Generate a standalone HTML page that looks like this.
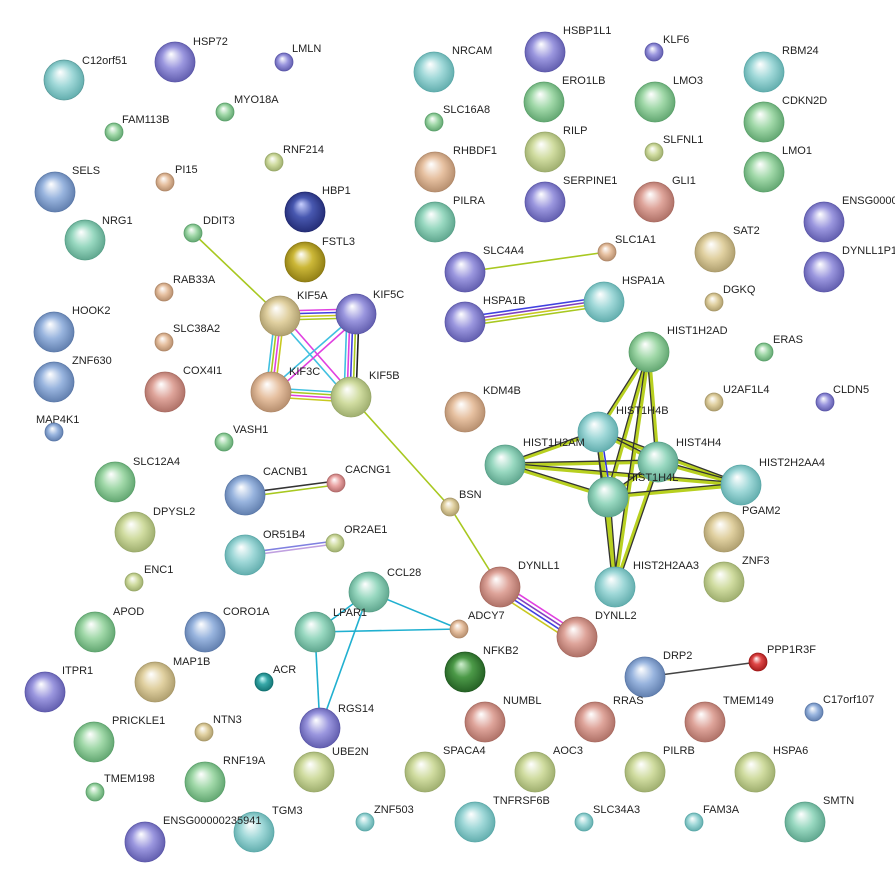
<!DOCTYPE html>
<html><head><meta charset="utf-8"><style>
html,body{margin:0;padding:0;background:#fff;}
svg{display:block;}
text{font-family:"Liberation Sans",Arial,sans-serif;font-size:11px;fill:#222;}
</style></head><body>
<svg width="895" height="887" viewBox="0 0 895 887" xmlns="http://www.w3.org/2000/svg">
<defs>
<radialGradient id="te" cx="50%" cy="50%" r="55%" fx="40%" fy="30%"><stop offset="0" stop-color="#fff"/><stop offset="0.5" stop-color="#9fd8d8"/><stop offset="1" stop-color="#5aa8a8"/></radialGradient>
<radialGradient id="pu" cx="50%" cy="50%" r="55%" fx="40%" fy="30%"><stop offset="0" stop-color="#fff"/><stop offset="0.5" stop-color="#9a96de"/><stop offset="1" stop-color="#5a56a8"/></radialGradient>
<radialGradient id="gr" cx="50%" cy="50%" r="55%" fx="40%" fy="30%"><stop offset="0" stop-color="#fff"/><stop offset="0.5" stop-color="#a0d8a8"/><stop offset="1" stop-color="#5aa06a"/></radialGradient>
<radialGradient id="bl" cx="50%" cy="50%" r="55%" fx="40%" fy="30%"><stop offset="0" stop-color="#fff"/><stop offset="0.5" stop-color="#98b4de"/><stop offset="1" stop-color="#5a78a8"/></radialGradient>
<radialGradient id="pe" cx="50%" cy="50%" r="55%" fx="40%" fy="30%"><stop offset="0" stop-color="#fff"/><stop offset="0.5" stop-color="#e6c0a0"/><stop offset="1" stop-color="#b08868"/></radialGradient>
<radialGradient id="sa" cx="50%" cy="50%" r="55%" fx="40%" fy="30%"><stop offset="0" stop-color="#fff"/><stop offset="0.5" stop-color="#dea49a"/><stop offset="1" stop-color="#a86a60"/></radialGradient>
<radialGradient id="yg" cx="50%" cy="50%" r="55%" fx="40%" fy="30%"><stop offset="0" stop-color="#fff"/><stop offset="0.5" stop-color="#d0dca0"/><stop offset="1" stop-color="#98a868"/></radialGradient>
<radialGradient id="ta" cx="50%" cy="50%" r="55%" fx="40%" fy="30%"><stop offset="0" stop-color="#fff"/><stop offset="0.5" stop-color="#e0d0a0"/><stop offset="1" stop-color="#a89868"/></radialGradient>
<radialGradient id="ol" cx="50%" cy="50%" r="55%" fx="40%" fy="30%"><stop offset="0" stop-color="#fff"/><stop offset="0.45" stop-color="#ccb838"/><stop offset="1" stop-color="#8a7810"/></radialGradient>
<radialGradient id="nv" cx="50%" cy="50%" r="55%" fx="40%" fy="30%"><stop offset="0" stop-color="#c8d0ff"/><stop offset="0.45" stop-color="#4858b0"/><stop offset="1" stop-color="#202870"/></radialGradient>
<radialGradient id="pk" cx="50%" cy="50%" r="55%" fx="40%" fy="30%"><stop offset="0" stop-color="#fff"/><stop offset="0.5" stop-color="#eaa4a4"/><stop offset="1" stop-color="#b06868"/></radialGradient>
<radialGradient id="rd" cx="50%" cy="50%" r="55%" fx="40%" fy="30%"><stop offset="0" stop-color="#fff"/><stop offset="0.45" stop-color="#e04848"/><stop offset="1" stop-color="#a01818"/></radialGradient>
<radialGradient id="dg" cx="50%" cy="50%" r="55%" fx="40%" fy="30%"><stop offset="0" stop-color="#d0f0d0"/><stop offset="0.45" stop-color="#4c9a48"/><stop offset="1" stop-color="#205a20"/></radialGradient>
<radialGradient id="ac" cx="50%" cy="50%" r="55%" fx="40%" fy="30%"><stop offset="0" stop-color="#d0ffff"/><stop offset="0.45" stop-color="#38a8a8"/><stop offset="1" stop-color="#107070"/></radialGradient>
<radialGradient id="tg" cx="50%" cy="50%" r="55%" fx="40%" fy="30%"><stop offset="0" stop-color="#fff"/><stop offset="0.5" stop-color="#98d8c0"/><stop offset="1" stop-color="#58a088"/></radialGradient>
</defs>

<!-- edges -->
<g stroke-width="1.6" fill="none">
<line x1="193" y1="233" x2="280" y2="316" stroke="#a8c820"/>
<line x1="351" y1="397" x2="450" y2="507" stroke="#a8c820"/>
<line x1="450" y1="507" x2="500" y2="587" stroke="#a8c820"/>
<line x1="465" y1="272" x2="607" y2="252" stroke="#a8c820"/>
<!-- KIF cluster -->
<g>
<line x1="280" y1="311" x2="356" y2="309" stroke="#e040e0"/><line x1="280" y1="314" x2="356" y2="312" stroke="#4040e0"/><line x1="280" y1="317" x2="356" y2="315" stroke="#c8c820"/><line x1="280" y1="320" x2="356" y2="318" stroke="#a8c820"/>
<line x1="275" y1="316" x2="266" y2="392" stroke="#40c0e0"/><line x1="278" y1="316" x2="269" y2="392" stroke="#a8c820"/><line x1="281" y1="316" x2="272" y2="392" stroke="#e040e0"/><line x1="284" y1="316" x2="275" y2="392" stroke="#c8c820"/>
<line x1="278" y1="318" x2="349" y2="399" stroke="#40c0e0"/><line x1="282" y1="314" x2="353" y2="395" stroke="#e040e0"/>
<line x1="354" y1="316" x2="269" y2="390" stroke="#40c0e0"/><line x1="358" y1="318" x2="273" y2="394" stroke="#e040e0"/>
<line x1="347" y1="314" x2="344" y2="397" stroke="#40c0e0"/><line x1="350" y1="314" x2="347" y2="397" stroke="#e040e0"/><line x1="353" y1="314" x2="350" y2="397" stroke="#4040e0"/><line x1="356" y1="314" x2="353" y2="397" stroke="#a8c820"/><line x1="359" y1="314" x2="356" y2="397" stroke="#222"/>
<line x1="271" y1="388" x2="351" y2="393" stroke="#40c0e0"/><line x1="271" y1="391" x2="351" y2="396" stroke="#a8c820"/><line x1="271" y1="394" x2="351" y2="399" stroke="#e040e0"/><line x1="271" y1="397" x2="351" y2="402" stroke="#c8c820"/>
</g>
<!-- HSPA -->
<line x1="465" y1="317" x2="604" y2="297" stroke="#4040e0"/><line x1="465" y1="320" x2="604" y2="300" stroke="#8040c0"/><line x1="465" y1="323" x2="604" y2="303" stroke="#c8c820"/><line x1="465" y1="326" x2="604" y2="306" stroke="#a8c820"/>
<!-- DYNLL -->
<line x1="503" y1="584" x2="580" y2="634" stroke="#e040e0"/><line x1="501" y1="587" x2="578" y2="637" stroke="#8040c0"/><line x1="499" y1="590" x2="576" y2="640" stroke="#4040e0"/><line x1="497" y1="593" x2="574" y2="643" stroke="#c8c820"/>
<!-- CACN -->
<line x1="245" y1="493" x2="336" y2="481" stroke="#333"/><line x1="245" y1="497" x2="336" y2="485" stroke="#a8c820"/>
<!-- OR -->
<line x1="245" y1="553" x2="335" y2="541" stroke="#8080e0"/><line x1="245" y1="556" x2="335" y2="544" stroke="#c0a0e0"/>
<!-- CCL28 / LPAR1 -->
<g stroke="#20b0d0">
<line x1="369" y1="592" x2="315" y2="632"/><line x1="369" y1="592" x2="459" y2="629"/><line x1="315" y1="632" x2="459" y2="629"/><line x1="315" y1="632" x2="320" y2="728"/><line x1="369" y1="592" x2="320" y2="728"/>
</g>
<line x1="645" y1="677" x2="758" y2="662" stroke="#444"/>
<!-- histones -->
<g>
<g stroke="#b8d020" stroke-width="3.5">
<line x1="649" y1="352" x2="598" y2="432"/><line x1="649" y1="352" x2="658" y2="462"/><line x1="649" y1="352" x2="608" y2="497"/><line x1="649" y1="352" x2="615" y2="587"/>
<line x1="598" y1="432" x2="505" y2="465"/><line x1="598" y1="432" x2="658" y2="462"/><line x1="598" y1="432" x2="741" y2="485"/><line x1="598" y1="432" x2="608" y2="497"/><line x1="598" y1="432" x2="615" y2="587"/>
<line x1="505" y1="465" x2="658" y2="462"/><line x1="505" y1="465" x2="608" y2="497"/><line x1="505" y1="465" x2="741" y2="485"/>
<line x1="658" y1="462" x2="741" y2="485"/><line x1="658" y1="462" x2="608" y2="497"/><line x1="658" y1="462" x2="615" y2="587"/>
<line x1="608" y1="497" x2="741" y2="485"/><line x1="608" y1="497" x2="615" y2="587"/>
</g>
<g stroke="#333" stroke-width="1.3">
<line x1="647" y1="352" x2="596" y2="432"/><line x1="647" y1="352" x2="656" y2="462"/><line x1="647" y1="352" x2="606" y2="497"/><line x1="647" y1="352" x2="613" y2="587"/>
<line x1="598" y1="430" x2="505" y2="463"/><line x1="598" y1="430" x2="658" y2="460"/><line x1="598" y1="430" x2="741" y2="483"/><line x1="595" y1="432" x2="605" y2="497"/><line x1="596" y1="432" x2="613" y2="587"/>
<line x1="505" y1="463" x2="658" y2="460"/><line x1="505" y1="463" x2="608" y2="495"/><line x1="505" y1="463" x2="741" y2="483"/>
<line x1="658" y1="460" x2="741" y2="483"/><line x1="658" y1="460" x2="608" y2="495"/><line x1="660" y1="462" x2="617" y2="587"/>
<line x1="608" y1="495" x2="741" y2="483"/><line x1="610" y1="497" x2="617" y2="587"/>
</g>
<line x1="601" y1="432" x2="611" y2="497" stroke="#3030e0" stroke-width="1.5"/>
</g>
</g>

<!-- nodes -->
<g stroke-width="0.8">
<circle cx="64" cy="80" r="20" fill="url(#te)" stroke="#5a9a9a"/>
<circle cx="175" cy="62" r="20" fill="url(#pu)" stroke="#5a56a8"/>
<circle cx="284" cy="62" r="9" fill="url(#pu)" stroke="#5a56a8"/>
<circle cx="114" cy="132" r="9" fill="url(#gr)" stroke="#5aa06a"/>
<circle cx="225" cy="112" r="9" fill="url(#gr)" stroke="#5aa06a"/>
<circle cx="274" cy="162" r="9" fill="url(#yg)" stroke="#98a868"/>
<circle cx="165" cy="182" r="9" fill="url(#pe)" stroke="#b08868"/>
<circle cx="55" cy="192" r="20" fill="url(#bl)" stroke="#5a78a8"/>
<circle cx="85" cy="240" r="20" fill="url(#tg)" stroke="#58a088"/>
<circle cx="193" cy="233" r="9" fill="url(#gr)" stroke="#5aa06a"/>
<circle cx="305" cy="212" r="20" fill="url(#nv)" stroke="#202870"/>
<circle cx="305" cy="262" r="20" fill="url(#ol)" stroke="#8a7810"/>
<circle cx="164" cy="292" r="9" fill="url(#pe)" stroke="#b08868"/>
<circle cx="280" cy="316" r="20" fill="url(#ta)" stroke="#a89868"/>
<circle cx="356" cy="314" r="20" fill="url(#pu)" stroke="#5a56a8"/>
<circle cx="271" cy="392" r="20" fill="url(#pe)" stroke="#b08868"/>
<circle cx="351" cy="397" r="20" fill="url(#yg)" stroke="#98a868"/>
<circle cx="54" cy="332" r="20" fill="url(#bl)" stroke="#5a78a8"/>
<circle cx="164" cy="342" r="9" fill="url(#pe)" stroke="#b08868"/>
<circle cx="54" cy="382" r="20" fill="url(#bl)" stroke="#5a78a8"/>
<circle cx="165" cy="392" r="20" fill="url(#sa)" stroke="#a86a60"/>
<circle cx="54" cy="432" r="9" fill="url(#bl)" stroke="#5a78a8"/>
<circle cx="224" cy="442" r="9" fill="url(#gr)" stroke="#5aa06a"/>
<circle cx="115" cy="482" r="20" fill="url(#gr)" stroke="#5aa06a"/>
<circle cx="245" cy="495" r="20" fill="url(#bl)" stroke="#5a78a8"/>
<circle cx="336" cy="483" r="9" fill="url(#pk)" stroke="#b06868"/>
<circle cx="135" cy="532" r="20" fill="url(#yg)" stroke="#98a868"/>
<circle cx="245" cy="555" r="20" fill="url(#te)" stroke="#5aa8a8"/>
<circle cx="335" cy="543" r="9" fill="url(#yg)" stroke="#98a868"/>
<circle cx="134" cy="582" r="9" fill="url(#yg)" stroke="#98a868"/>
<circle cx="369" cy="592" r="20" fill="url(#tg)" stroke="#58a088"/>
<circle cx="315" cy="632" r="20" fill="url(#tg)" stroke="#58a088"/>
<circle cx="95" cy="632" r="20" fill="url(#gr)" stroke="#5aa06a"/>
<circle cx="205" cy="632" r="20" fill="url(#bl)" stroke="#5a78a8"/>
<circle cx="459" cy="629" r="9" fill="url(#pe)" stroke="#b08868"/>
<circle cx="155" cy="682" r="20" fill="url(#ta)" stroke="#a89868"/>
<circle cx="264" cy="682" r="9" fill="url(#ac)" stroke="#107070"/>
<circle cx="45" cy="692" r="20" fill="url(#pu)" stroke="#5a56a8"/>
<circle cx="320" cy="728" r="20" fill="url(#pu)" stroke="#5a56a8"/>
<circle cx="94" cy="742" r="20" fill="url(#gr)" stroke="#5aa06a"/>
<circle cx="204" cy="732" r="9" fill="url(#ta)" stroke="#a89868"/>
<circle cx="314" cy="772" r="20" fill="url(#yg)" stroke="#98a868"/>
<circle cx="205" cy="782" r="20" fill="url(#gr)" stroke="#5aa06a"/>
<circle cx="95" cy="792" r="9" fill="url(#gr)" stroke="#5aa06a"/>
<circle cx="145" cy="842" r="20" fill="url(#pu)" stroke="#5a56a8"/>
<circle cx="254" cy="832" r="20" fill="url(#te)" stroke="#5aa8a8"/>
<circle cx="365" cy="822" r="9" fill="url(#te)" stroke="#5aa8a8"/>
<circle cx="434" cy="72" r="20" fill="url(#te)" stroke="#5aa8a8"/>
<circle cx="545" cy="52" r="20" fill="url(#pu)" stroke="#5a56a8"/>
<circle cx="654" cy="52" r="9" fill="url(#pu)" stroke="#5a56a8"/>
<circle cx="764" cy="72" r="20" fill="url(#te)" stroke="#5aa8a8"/>
<circle cx="544" cy="102" r="20" fill="url(#gr)" stroke="#5aa06a"/>
<circle cx="655" cy="102" r="20" fill="url(#gr)" stroke="#5aa06a"/>
<circle cx="434" cy="122" r="9" fill="url(#gr)" stroke="#5aa06a"/>
<circle cx="764" cy="122" r="20" fill="url(#gr)" stroke="#5aa06a"/>
<circle cx="545" cy="152" r="20" fill="url(#yg)" stroke="#98a868"/>
<circle cx="654" cy="152" r="9" fill="url(#yg)" stroke="#98a868"/>
<circle cx="435" cy="172" r="20" fill="url(#pe)" stroke="#b08868"/>
<circle cx="764" cy="172" r="20" fill="url(#gr)" stroke="#5aa06a"/>
<circle cx="545" cy="202" r="20" fill="url(#pu)" stroke="#5a56a8"/>
<circle cx="654" cy="202" r="20" fill="url(#sa)" stroke="#a86a60"/>
<circle cx="435" cy="222" r="20" fill="url(#tg)" stroke="#58a088"/>
<circle cx="824" cy="222" r="20" fill="url(#pu)" stroke="#5a56a8"/>
<circle cx="824" cy="272" r="20" fill="url(#pu)" stroke="#5a56a8"/>
<circle cx="465" cy="272" r="20" fill="url(#pu)" stroke="#5a56a8"/>
<circle cx="607" cy="252" r="9" fill="url(#pe)" stroke="#b08868"/>
<circle cx="715" cy="252" r="20" fill="url(#ta)" stroke="#a89868"/>
<circle cx="714" cy="302" r="9" fill="url(#ta)" stroke="#a89868"/>
<circle cx="604" cy="302" r="20" fill="url(#te)" stroke="#5aa8a8"/>
<circle cx="465" cy="322" r="20" fill="url(#pu)" stroke="#5a56a8"/>
<circle cx="649" cy="352" r="20" fill="url(#gr)" stroke="#5aa06a"/>
<circle cx="764" cy="352" r="9" fill="url(#gr)" stroke="#5aa06a"/>
<circle cx="465" cy="412" r="20" fill="url(#pe)" stroke="#b08868"/>
<circle cx="714" cy="402" r="9" fill="url(#ta)" stroke="#a89868"/>
<circle cx="825" cy="402" r="9" fill="url(#pu)" stroke="#5a56a8"/>
<circle cx="598" cy="432" r="20" fill="url(#te)" stroke="#5aa8a8"/>
<circle cx="658" cy="462" r="20" fill="url(#tg)" stroke="#58a088"/>
<circle cx="505" cy="465" r="20" fill="url(#tg)" stroke="#58a088"/>
<circle cx="741" cy="485" r="20" fill="url(#te)" stroke="#5aa8a8"/>
<circle cx="608" cy="497" r="20" fill="url(#tg)" stroke="#58a088"/>
<circle cx="450" cy="507" r="9" fill="url(#ta)" stroke="#a89868"/>
<circle cx="724" cy="532" r="20" fill="url(#ta)" stroke="#a89868"/>
<circle cx="615" cy="587" r="20" fill="url(#te)" stroke="#5aa8a8"/>
<circle cx="724" cy="582" r="20" fill="url(#yg)" stroke="#98a868"/>
<circle cx="500" cy="587" r="20" fill="url(#sa)" stroke="#a86a60"/>
<circle cx="577" cy="637" r="20" fill="url(#sa)" stroke="#a86a60"/>
<circle cx="465" cy="672" r="20" fill="url(#dg)" stroke="#205a20"/>
<circle cx="645" cy="677" r="20" fill="url(#bl)" stroke="#5a78a8"/>
<circle cx="758" cy="662" r="9" fill="url(#rd)" stroke="#a01818"/>
<circle cx="485" cy="722" r="20" fill="url(#sa)" stroke="#a86a60"/>
<circle cx="595" cy="722" r="20" fill="url(#sa)" stroke="#a86a60"/>
<circle cx="705" cy="722" r="20" fill="url(#sa)" stroke="#a86a60"/>
<circle cx="814" cy="712" r="9" fill="url(#bl)" stroke="#5a78a8"/>
<circle cx="425" cy="772" r="20" fill="url(#yg)" stroke="#98a868"/>
<circle cx="535" cy="772" r="20" fill="url(#yg)" stroke="#98a868"/>
<circle cx="645" cy="772" r="20" fill="url(#yg)" stroke="#98a868"/>
<circle cx="755" cy="772" r="20" fill="url(#yg)" stroke="#98a868"/>
<circle cx="805" cy="822" r="20" fill="url(#tg)" stroke="#58a088"/>
<circle cx="475" cy="822" r="20" fill="url(#te)" stroke="#5aa8a8"/>
<circle cx="584" cy="822" r="9" fill="url(#te)" stroke="#5aa8a8"/>
<circle cx="694" cy="822" r="9" fill="url(#te)" stroke="#5aa8a8"/>
</g>

<!-- labels -->
<g>
<text x="82" y="64">C12orf51</text><text x="193" y="45">HSP72</text><text x="292" y="52">LMLN</text>
<text x="122" y="123">FAM113B</text><text x="234" y="103">MYO18A</text><text x="283" y="153">RNF214</text>
<text x="175" y="173">PI15</text><text x="72" y="174">SELS</text><text x="102" y="224">NRG1</text>
<text x="203" y="224">DDIT3</text><text x="322" y="194">HBP1</text><text x="322" y="245">FSTL3</text>
<text x="173" y="283">RAB33A</text><text x="297" y="299">KIF5A</text><text x="373" y="298">KIF5C</text>
<text x="289" y="375">KIF3C</text><text x="369" y="379">KIF5B</text><text x="72" y="314">HOOK2</text>
<text x="173" y="332">SLC38A2</text><text x="72" y="364">ZNF630</text><text x="183" y="374">COX4I1</text>
<text x="36" y="423">MAP4K1</text><text x="233" y="433">VASH1</text><text x="133" y="465">SLC12A4</text>
<text x="263" y="475">CACNB1</text><text x="345" y="473">CACNG1</text><text x="153" y="515">DPYSL2</text>
<text x="263" y="538">OR51B4</text><text x="344" y="533">OR2AE1</text><text x="144" y="573">ENC1</text>
<text x="387" y="576">CCL28</text><text x="333" y="616">LPAR1</text><text x="113" y="615">APOD</text>
<text x="223" y="615">CORO1A</text><text x="468" y="619">ADCY7</text><text x="173" y="665">MAP1B</text>
<text x="273" y="673">ACR</text><text x="62" y="674">ITPR1</text><text x="338" y="712">RGS14</text>
<text x="112" y="724">PRICKLE1</text><text x="213" y="723">NTN3</text><text x="332" y="755">UBE2N</text>
<text x="223" y="764">RNF19A</text><text x="104" y="782">TMEM198</text><text x="163" y="824">ENSG00000235941</text>
<text x="272" y="814">TGM3</text><text x="374" y="813">ZNF503</text>
<text x="452" y="54">NRCAM</text><text x="563" y="34">HSBP1L1</text><text x="663" y="43">KLF6</text>
<text x="782" y="54">RBM24</text><text x="562" y="84">ERO1LB</text><text x="673" y="84">LMO3</text>
<text x="443" y="113">SLC16A8</text><text x="782" y="104">CDKN2D</text><text x="563" y="134">RILP</text>
<text x="663" y="143">SLFNL1</text><text x="453" y="154">RHBDF1</text><text x="782" y="154">LMO1</text>
<text x="563" y="184">SERPINE1</text><text x="672" y="184">GLI1</text><text x="453" y="204">PILRA</text>
<text x="842" y="204">ENSG00000</text><text x="842" y="254">DYNLL1P1</text><text x="483" y="254">SLC4A4</text>
<text x="615" y="243">SLC1A1</text><text x="733" y="234">SAT2</text><text x="723" y="293">DGKQ</text>
<text x="622" y="284">HSPA1A</text><text x="483" y="304">HSPA1B</text><text x="667" y="334">HIST1H2AD</text>
<text x="773" y="343">ERAS</text><text x="483" y="394">KDM4B</text><text x="723" y="393">U2AF1L4</text>
<text x="833" y="393">CLDN5</text><text x="616" y="414">HIST1H4B</text><text x="676" y="446">HIST4H4</text>
<text x="523" y="446">HIST1H2AM</text><text x="759" y="466">HIST2H2AA4</text><text x="627" y="481">HIST1H4L</text>
<text x="459" y="498">BSN</text><text x="742" y="514">PGAM2</text><text x="633" y="569">HIST2H2AA3</text>
<text x="742" y="564">ZNF3</text><text x="518" y="569">DYNLL1</text><text x="595" y="619">DYNLL2</text>
<text x="483" y="654">NFKB2</text><text x="663" y="659">DRP2</text><text x="767" y="653">PPP1R3F</text>
<text x="503" y="704">NUMBL</text><text x="613" y="704">RRAS</text><text x="723" y="704">TMEM149</text>
<text x="823" y="703">C17orf107</text><text x="443" y="754">SPACA4</text><text x="553" y="754">AOC3</text>
<text x="663" y="754">PILRB</text><text x="773" y="754">HSPA6</text><text x="823" y="804">SMTN</text>
<text x="493" y="804">TNFRSF6B</text><text x="593" y="813">SLC34A3</text><text x="703" y="813">FAM3A</text>
</g>
</svg>
</body></html>
